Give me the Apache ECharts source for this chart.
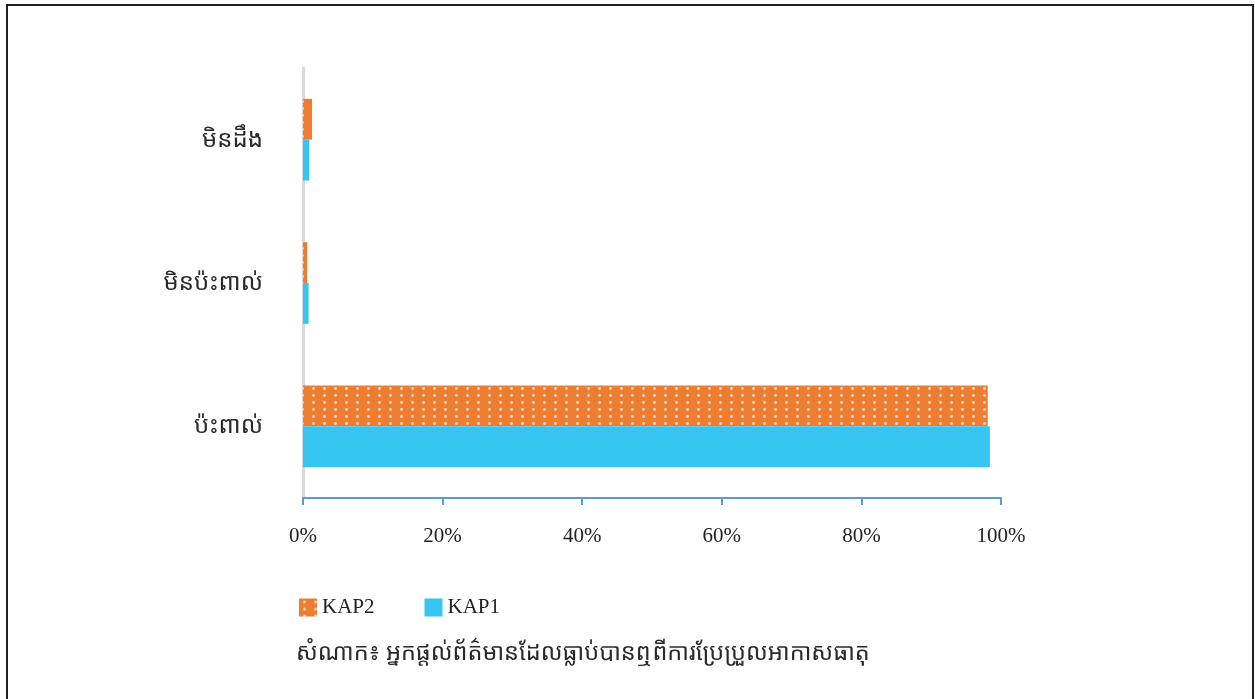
<!DOCTYPE html>
<html>
<head>
<meta charset="utf-8">
<script src="https://cdn.jsdelivr.net/npm/echarts@6/dist/echarts.min.js"></script>
<style>
  html, body { margin: 0; padding: 0; background: #fff; }
  #main { width: 1255px; height: 699px; }
</style>
</head>
<body>
<div id="main"></div>
<script>
// categories from bottom to top
var categories = ['ប៉ះពាល់', 'មិនប៉ះពាល់', 'មិនដឹង'];
var kap1 = [98.4, 0.8, 0.9];
var kap2 = [98.1, 0.6, 1.3];
var xTicks = [0, 20, 40, 60, 80, 100];
var caption = 'សំណាក៖ អ្នកផ្តល់ព័ត៌មានដែលធ្លាប់បានឮពីការប្រែប្រួលអាកាសធាតុ';

// dotted orange fill for KAP2
function dotPattern() {
    var c = document.createElement('canvas');
    c.width = 11;
    c.height = 7;
    var ctx = c.getContext('2d');
    ctx.fillStyle = '#ED7D31';
    ctx.fillRect(0, 0, 11, 7);
    ctx.fillStyle = 'rgba(255,255,255,0.7)';
    ctx.beginPath();
    ctx.arc(5.5, 3.5, 1.4, 0, Math.PI * 2);
    ctx.fill();
    return c;
}

var khmerFont = '"Noto Sans Khmer", "Khmer OS", "DejaVu Sans", sans-serif';
var serifFont = '"Liberation Serif", "Times New Roman", serif';

var chart = echarts.init(document.getElementById('main'));
var option = {
    backgroundColor: '#fff',
    animation: false,
    grid: { left: 303, right: 254, top: 68, bottom: 201 },
    legend: {
        data: ['KAP2', 'KAP1'],
        left: 294,
        top: 592,
        itemWidth: 18,
        itemHeight: 18,
        itemGap: 50,
        itemTextGap: 8,
        icon: 'rect',
        textStyle: { fontFamily: serifFont, fontSize: 21, color: '#222' }
    },
    xAxis: {
        type: 'value',
        min: 0,
        max: 100,
        interval: 20,
        splitLine: { show: false },
        axisLine: { show: true, lineStyle: { color: '#5B9BD5', width: 2 } },
        axisTick: { show: true, length: 7, lineStyle: { color: '#5B9BD5', width: 2 } },
        axisLabel: {
            margin: 28,
            fontFamily: serifFont,
            fontSize: 21,
            color: '#222',
            formatter: function (v) { return xTicks.indexOf(v) >= 0 ? v + '%' : ''; }
        }
    },
    yAxis: {
        type: 'category',
        data: categories,
        axisLine: { show: true, lineStyle: { color: '#D9D9D9', width: 3 } },
        axisTick: { show: false },
        axisLabel: {
            margin: 40,
            fontFamily: khmerFont,
            fontSize: 24,
            color: '#2a2a2a'
        }
    },
    series: [
        {
            name: 'KAP2',
            type: 'bar',
            data: kap2,
            barGap: '0%',
            barCategoryGap: '43%',
            itemStyle: { color: { image: dotPattern(), repeat: 'repeat' } }
        },
        {
            name: 'KAP1',
            type: 'bar',
            data: kap1,
            barGap: '0%',
            barCategoryGap: '43%',
            itemStyle: { color: '#35C5F0' }
        }
    ],
    graphic: [
        {
            type: 'rect',
            shape: { x: 7, y: 5, width: 1246, height: 710 },
            style: { fill: 'none', stroke: '#231F20', lineWidth: 2 },
            silent: true
        },
        {
            type: 'text',
            left: 296,
            top: 641,
            style: {
                text: caption,
                font: '23.5px ' + khmerFont,
                fill: '#2a2a2a'
            }
        }
    ]
};
chart.setOption(option);
</script>
</body>
</html>
